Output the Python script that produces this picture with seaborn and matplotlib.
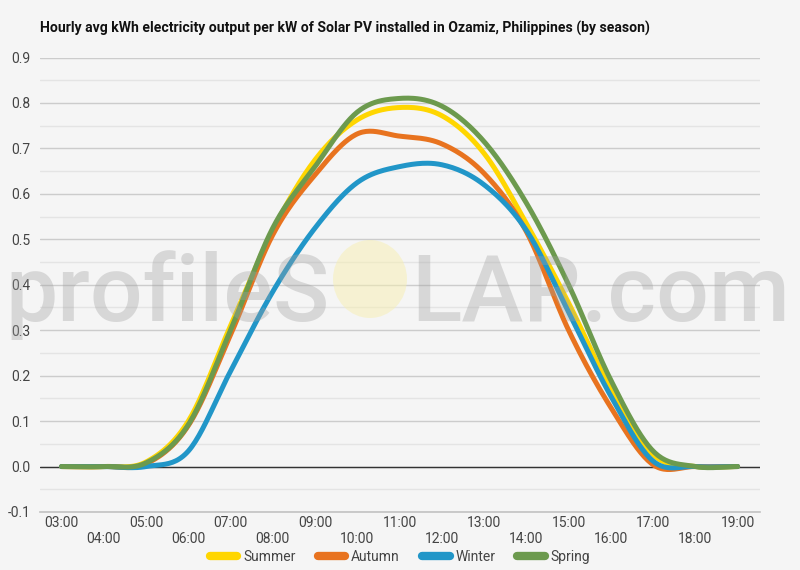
import numpy as np
import pandas as pd
import matplotlib
matplotlib.use("Agg")
import matplotlib.pyplot as plt
import seaborn as sns
from matplotlib.patches import Ellipse
from matplotlib.ticker import MultipleLocator

# hourly values (03:00 .. 19:00)
hours = list(range(3, 20))
hour_labels = [f"{h:02d}:00" for h in hours]
seasons = ["Summer", "Autumn", "Winter", "Spring"]
summer = [0, 0, 0.010, 0.100, 0.310, 0.520, 0.675, 0.763, 0.790, 0.772, 0.689, 0.535, 0.360, 0.170, 0.026, 0, 0]
autumn = [0, 0, 0.006, 0.090, 0.290, 0.510, 0.642, 0.732, 0.727, 0.710, 0.645, 0.517, 0.300, 0.130, 0.004, 0, 0]
winter = [0, 0, 0.000, 0.034, 0.210, 0.385, 0.525, 0.625, 0.660, 0.664, 0.620, 0.520, 0.340, 0.155, 0.012, 0, 0]
spring = [0, 0, 0.008, 0.092, 0.300, 0.525, 0.660, 0.780, 0.810, 0.793, 0.715, 0.580, 0.400, 0.190, 0.034, 0, 0]
colors = ["#ffd600", "#e8731f", "#2196c8", "#6c9a4e"]

sns.set_theme(style="white")
plt.rcParams["font.family"] = ["Roboto", "DejaVu Sans"]

bg = "#f5f5f5"


def smooth(x, y, n=24):
    # catmull-rom curve through the points, only for drawing
    x = np.asarray(x, float)
    y = np.asarray(y, float)
    yp = np.concatenate([[y[0]], y, [y[-1]]])
    xs, ys = [], []
    t = np.linspace(0, 1, n, endpoint=False)
    for i in range(len(y) - 1):
        p0, p1, p2, p3 = yp[i], yp[i + 1], yp[i + 2], yp[i + 3]
        xs.append(x[i] + t * (x[i + 1] - x[i]))
        ys.append(0.5 * (2 * p1 + (-p0 + p2) * t + (2 * p0 - 5 * p1 + 4 * p2 - p3) * t ** 2
                         + (-p0 + 3 * p1 - 3 * p2 + p3) * t ** 3))
    xs.append([x[-1]])
    ys.append([y[-1]])
    return np.concatenate(xs), np.concatenate(ys)


frames = []
for name, vals in zip(seasons, [summer, autumn, winter, spring]):
    sx, sy = smooth(hours, vals)
    frames.append(pd.DataFrame({"hour": sx, "kwh": sy, "season": name}))
df = pd.concat(frames, ignore_index=True)

fig = plt.figure(figsize=(8, 5.7), dpi=100, facecolor=bg)
ax = fig.add_axes([0.05, 0.1018, 0.90, 0.7973])
ax.set_facecolor(bg)

sns.lineplot(data=df, x="hour", y="kwh", hue="season", hue_order=seasons,
             palette=colors, linewidth=3.6, ax=ax, sort=False, zorder=3)

ax.set_xlim(2.49, 19.53)
ax.set_ylim(-0.1, 0.9)
ax.yaxis.set_major_locator(MultipleLocator(0.1))
ax.yaxis.set_minor_locator(MultipleLocator(0.05))
ax.grid(axis="y", which="major", color="#cccccc", lw=1)
ax.grid(axis="y", which="minor", color="#e4e4e4", lw=1)
ax.set_axisbelow(True)
ax.axhline(0, color="#333333", lw=1, zorder=2)
for s in ["top", "right", "left"]:
    ax.spines[s].set_visible(False)
ax.spines["bottom"].set_color("#c4c4c4")

ax.set_xticks(hours)
ax.set_xticklabels([lab if i % 2 == 0 else "\n" + lab for i, lab in enumerate(hour_labels)])
ax.set_yticks(np.round(np.arange(-0.1, 0.91, 0.1), 1))
ax.set_yticklabels([f"{v:.1f}" for v in np.arange(-0.1, 0.91, 0.1)])
ax.tick_params(axis="x", length=0, pad=3, labelsize=10, labelcolor="#444444")
ax.tick_params(axis="y", which="both", length=0, pad=7, labelsize=10, labelcolor="#444444")
ax.set_xlabel("")
ax.set_ylabel("")

handles, labels = ax.get_legend_handles_labels()
ax.legend_.remove()
leg = fig.legend(handles, labels, loc="center", bbox_to_anchor=(0.5, 1 - 557 / 570), ncol=4,
                 frameon=False, fontsize=10, handlelength=2.0, handletextpad=0.4, columnspacing=1.6)
for h in leg.legend_handles:
    h.set_linewidth(6)
for t in leg.get_texts():
    t.set_color("#444444")

fig.text(0.05, 1 - 28 / 570,
         "Hourly avg kWh electricity output per kW of Solar PV installed in Ozamiz, Philippines (by season)",
         fontsize=10.1, fontweight="bold", color="#111111", va="center", ha="left")

# watermark
fig.text(330 / 800, 1 - 321 / 570, "profileS", fontsize=67, fontweight="medium", color="#a0a0a0",
         alpha=0.35, ha="right", va="baseline", zorder=10)
fig.text(411 / 800, 1 - 321 / 570, "LAR.com", fontsize=67, fontweight="medium", color="#a0a0a0",
         alpha=0.35, ha="left", va="baseline", zorder=10)
fig.patches.append(Ellipse((370 / 800, 1 - 279 / 570), 74 / 800, 78 / 570, transform=fig.transFigure,
                           facecolor="#f7efb0", alpha=0.5, edgecolor="none", zorder=10))

plt.savefig("out.png", dpi=100, facecolor=bg)
